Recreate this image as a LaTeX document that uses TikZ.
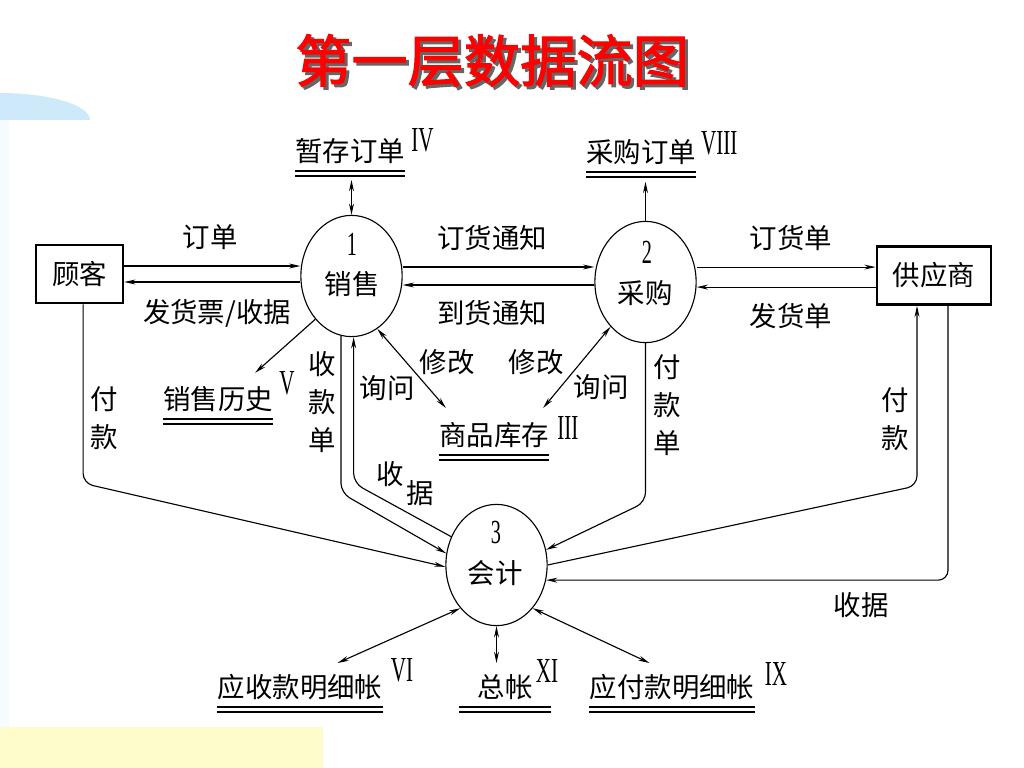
\documentclass[tikz,border=0pt]{standalone}
\usepackage{fontspec}
\usetikzlibrary{arrows.meta,shapes.geometric}

\newfontfamily\cjk{Noto Sans CJK SC}
\newfontfamily\titlefont[FakeBold=2]{Noto Sans CJK SC}
\newfontfamily\romfont[FakeStretch=0.6]{Liberation Serif}

\definecolor{titlered}{RGB}{255,0,0}
\definecolor{skyblue}{RGB}{206,233,250}
\definecolor{paleyellow}{RGB}{255,252,204}

\begin{document}
\begin{tikzpicture}[
    x=0.025cm, y=-0.025cm,
    lbl/.style={font=\cjk\fontsize{19.5}{27}\selectfont, inner sep=0pt, align=center},
    entity/.style={lbl, draw, line width=1.8pt, inner xsep=0.4cm, minimum height=1.45cm},
    proc/.style={draw, ellipse, line width=0.8pt, minimum width=2.53cm, minimum height=3.03cm, inner sep=0pt},
    pnum/.style={font=\romfont\fontsize{24}{24}\selectfont, inner sep=0pt},
    store/.style={lbl, text height=16.5pt, text depth=3pt},
    roman/.style={font=\romfont\fontsize{25}{25}\selectfont, inner sep=0pt, anchor=south west},
    bar/.style={line width=1.6pt},
    flow/.style={draw, line width=0.8pt, -{Stealth[length=8pt,width=3.5pt]}},
    back/.style={draw, line width=0.8pt, {Stealth[length=8pt,width=3.5pt]}-},
    both/.style={draw, line width=0.8pt, {Stealth[length=8pt,width=3.5pt]}-{Stealth[length=8pt,width=3.5pt]}},
    elbow/.style={rounded corners=7pt}
]
    \useasboundingbox (0,0) rectangle (1024,768);

    % slide background
    \fill[skyblue] (90,120) arc[start angle=0, end angle=180, x radius=2.25cm, y radius=0.675cm] -- cycle;
    \fill[skyblue!20] (0,120) rectangle (9,727);
    \fill[paleyellow] (0,727) rectangle (323,768);

    % title, with its shadow
    \node[font=\titlefont\fontsize{40}{40}\selectfont, text=titlered, inner sep=0pt] (title) at (492,62)
        {\rlap{\hspace{0.075cm}\raisebox{-0.075cm}{\textcolor{black!60}{第一层数据流图}}}第一层数据流图};

    % external entities
    \node[entity] (cust) at (79.5,274) {顾客};
    \node[entity] (supp) at (934,275.5) {供应商};

    % processes
    \node[proc] (sale) at (351.5,276) {};
    \node[pnum] (sale-n) at (352,244) {1};
    \node[lbl] (sale-t) at (352,284) {销售};
    \node[proc] (pur) at (645.5,282) {};
    \node[pnum] (pur-n) at (647,252) {2};
    \node[lbl] (pur-t) at (645,293) {采购};
    \node[proc] (acct) at (496.5,565) {};
    \node[pnum] (acct-n) at (496,532) {3};
    \node[lbl] (acct-t) at (495,573) {会计};

    % data stores
    \node[store] (tmp) at (350,152) {暂存订单};
    \node[store] (pord) at (641,153) {采购订单};
    \node[store] (hist) at (218,400) {销售历史};
    \node[store] (stock) at (494,436) {商品库存};
    \node[store] (recv) at (300,688) {应收款明细帐};
    \node[store, inner xsep=0.45cm] (ledg) at (505,688) {总帐};
    \node[store] (paybk) at (672,688) {应付款明细帐};
    \foreach \s in {tmp,pord,hist,stock,recv,ledg,paybk} {
        \draw[bar] ([yshift=-0.47cm]\s.west) -- ([yshift=-0.47cm]\s.east);
        \draw[bar] ([yshift=-0.6cm]\s.west) -- ([yshift=-0.6cm]\s.east);
    }
    \node[roman] (tmp-no) at ([xshift=0.15cm]tmp.east) {IV};
    \node[roman] (pord-no) at ([xshift=0.12cm,yshift=-0.05cm]pord.east) {VIII};
    \node[roman] (hist-no) at ([xshift=0.15cm,yshift=0.12cm]hist.east) {V};
    \node[roman] (stock-no) at ([xshift=0.2cm,yshift=-0.1cm]stock.east) {III};
    \node[roman] (recv-no) at ([xshift=0.2cm,yshift=0.15cm]recv.east) {VI};
    \node[roman] (ledg-no) at ([xshift=-0.38cm,yshift=0.12cm]ledg.east) {XI};
    \node[roman] (paybk-no) at ([xshift=0.25cm,yshift=0.05cm]paybk.east) {IX};

    % data flows
    \draw[flow] ([yshift=0.2cm]cust.east) -- ([yshift=0.2cm]cust.east -| sale.west);
    \draw[flow] ([yshift=-0.2cm]cust.east -| sale.west) -- ([yshift=-0.2cm]cust.east);
    \draw[flow] ([yshift=0.225cm]sale.east) -- ([yshift=0.225cm]sale.east -| pur.west);
    \draw[flow] ([yshift=-0.225cm]sale.east -| pur.west) -- ([yshift=-0.225cm]sale.east);
    \draw[flow] ([yshift=0.21cm]supp.west -| pur.east) -- ([yshift=0.21cm]supp.west);
    \draw[flow] ([yshift=-0.29cm]supp.west) -- ([yshift=-0.29cm]supp.west -| pur.east);
    \draw[both] ([yshift=-0.7cm]tmp.center -| sale.north) -- (sale.north);
    \draw[flow] (pur.north) -- ([yshift=-0.72cm]pord.center -| pur.north);
    \draw[flow] (sale.south west) -- ([shift={(-0.45cm,0.33cm)}]hist.north east);
    \draw[both] (sale.-64) -- ([shift={(0.175cm,0.35cm)}]stock.north west);
    \draw[both] (pur.-128) -- ([shift={(-0.15cm,0.35cm)}]stock.north east);
    \draw[flow, elbow] (sale.-100) -- ++(0,157) -- (acct.167);
    \draw[back, elbow] (sale.-88) -- ++(0,146) -- (acct.148);
    \draw[flow, elbow] (pur.south) -- ++(0,159) -- (acct.17);
    \draw[flow, elbow] ([xshift=0.09cm]cust.south) -- ++(0,179) -- (acct.182);
    \draw[back, elbow] ([xshift=-0.425cm]supp.south) -- ++(0,180) -- (acct.east);
    \draw[flow, elbow] ([xshift=0.35cm]supp.south) |- (acct.-17);
    \draw[both] (acct.south west) -- ([shift={(-1.125cm,0.275cm)}]recv.north east);
    \draw[both] (acct.south) -- ([yshift=0.275cm]ledg.north -| acct.south);
    \draw[both] (acct.south east) -- ([shift={(1.5cm,0.275cm)}]paybk.north west);

    % flow labels
    \node[lbl] (l-order) at (210,237) {订单};
    \node[lbl] (l-invoice) at (217,313) {发货票/收据};
    \node[lbl] (l-notify) at (492,238) {订货通知};
    \node[lbl] (l-arrive) at (492,313) {到货通知};
    \node[lbl] (l-purch) at (791,238) {订货单};
    \node[lbl] (l-deliv) at (791,316) {发货单};
    \node[lbl] (l-mod1) at (447,362) {修改};
    \node[lbl] (l-ask1) at (387,388) {询问};
    \node[lbl] (l-mod2) at (536,362) {修改};
    \node[lbl] (l-ask2) at (601,387) {询问};
    \node[lbl] (l-bill) at (322,402) {收\\款\\单};
    \node[lbl] (l-paybill) at (667,405) {付\\款\\单};
    \node[lbl] (l-pay1) at (104,418) {付\\款};
    \node[lbl] (l-pay2) at (895,419) {付\\款};
    \node[lbl] (l-rcpt1a) at (390,474) {收};
    \node[lbl] (l-rcpt1b) at (420,493) {据};
    \node[lbl] (l-rcpt2) at (861,605) {收据};
\end{tikzpicture}
\end{document}
